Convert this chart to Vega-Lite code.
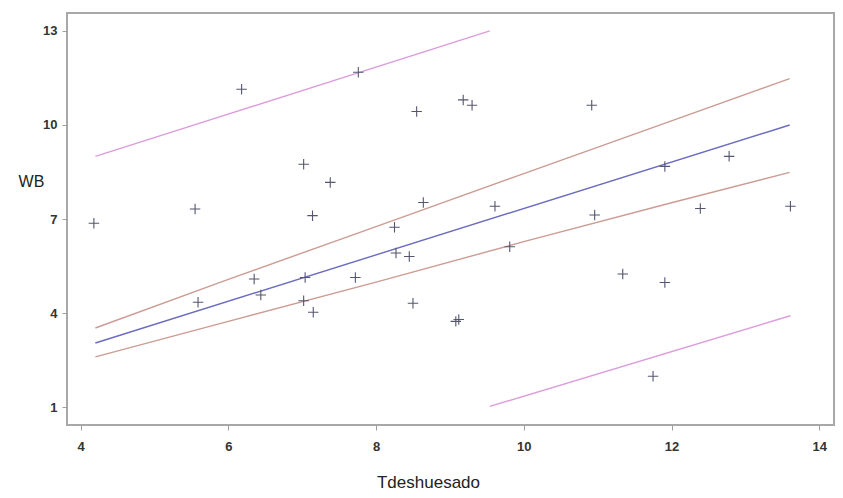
{
  "$schema": "https://vega.github.io/schema/vega-lite/v6.json",
  "width": 767,
  "height": 412,
  "autosize": {"type": "none"},
  "padding": {"left": 67, "top": 13, "right": 9, "bottom": 73},
  "background": "white",
  "config": {
    "view": {"stroke": "#a8a8a8", "strokeWidth": 2},
    "axis": {
      "labelFont": "Liberation Sans",
      "titleFont": "Liberation Sans",
      "labelColor": "#333",
      "titleColor": "#222",
      "tickColor": "#a0a0a0",
      "domain": false,
      "grid": false,
      "tickSize": 5
    }
  },
  "datasets": {
    "pts": [
      {"Tdeshuesado": 4.18, "WB": 6.87},
      {"Tdeshuesado": 5.55, "WB": 7.32},
      {"Tdeshuesado": 5.59, "WB": 4.35},
      {"Tdeshuesado": 6.18, "WB": 11.14},
      {"Tdeshuesado": 6.35, "WB": 5.09},
      {"Tdeshuesado": 6.44, "WB": 4.58},
      {"Tdeshuesado": 7.02, "WB": 8.75},
      {"Tdeshuesado": 7.04, "WB": 5.14},
      {"Tdeshuesado": 7.02, "WB": 4.40},
      {"Tdeshuesado": 7.14, "WB": 7.11},
      {"Tdeshuesado": 7.15, "WB": 4.03},
      {"Tdeshuesado": 7.38, "WB": 8.17},
      {"Tdeshuesado": 7.76, "WB": 11.68},
      {"Tdeshuesado": 7.72, "WB": 5.14},
      {"Tdeshuesado": 8.25, "WB": 6.74},
      {"Tdeshuesado": 8.27, "WB": 5.92},
      {"Tdeshuesado": 8.45, "WB": 5.81},
      {"Tdeshuesado": 8.50, "WB": 4.32},
      {"Tdeshuesado": 8.55, "WB": 10.43},
      {"Tdeshuesado": 8.64, "WB": 7.53},
      {"Tdeshuesado": 9.08, "WB": 3.74},
      {"Tdeshuesado": 9.12, "WB": 3.80},
      {"Tdeshuesado": 9.18, "WB": 10.80},
      {"Tdeshuesado": 9.30, "WB": 10.63},
      {"Tdeshuesado": 9.61, "WB": 7.41},
      {"Tdeshuesado": 9.81, "WB": 6.12},
      {"Tdeshuesado": 10.92, "WB": 10.63},
      {"Tdeshuesado": 10.96, "WB": 7.13},
      {"Tdeshuesado": 11.34, "WB": 5.25},
      {"Tdeshuesado": 11.91, "WB": 4.98},
      {"Tdeshuesado": 11.91, "WB": 8.68},
      {"Tdeshuesado": 11.75, "WB": 1.99},
      {"Tdeshuesado": 12.78, "WB": 9.00},
      {"Tdeshuesado": 12.39, "WB": 7.34},
      {"Tdeshuesado": 13.61, "WB": 7.41}
    ],
    "lines": [
      {"series": "reg", "x": 4.2, "y": 3.05},
      {"series": "reg", "x": 13.6, "y": 10.0},
      {"series": "uconf", "x": 4.2, "y": 3.53},
      {"series": "uconf", "x": 6.0, "y": 5.08},
      {"series": "uconf", "x": 8.0, "y": 6.76},
      {"series": "uconf", "x": 10.0, "y": 8.45},
      {"series": "uconf", "x": 12.0, "y": 10.13},
      {"series": "uconf", "x": 13.6, "y": 11.48},
      {"series": "lconf", "x": 4.2, "y": 2.61},
      {"series": "lconf", "x": 6.0, "y": 3.74},
      {"series": "lconf", "x": 8.0, "y": 4.99},
      {"series": "lconf", "x": 10.0, "y": 6.28},
      {"series": "lconf", "x": 12.0, "y": 7.52},
      {"series": "lconf", "x": 13.6, "y": 8.49},
      {"series": "upred", "x": 4.2, "y": 9.0},
      {"series": "upred", "x": 9.54, "y": 13.0},
      {"series": "lpred", "x": 9.54, "y": 1.03},
      {"series": "lpred", "x": 13.61, "y": 3.92}
    ]
  },
  "layer": [
    {
      "data": {"name": "lines"},
      "mark": {"type": "line", "strokeWidth": 1.4},
      "encoding": {
        "x": {"field": "x", "type": "quantitative"},
        "y": {"field": "y", "type": "quantitative"},
        "order": {"field": "x"},
        "color": {
          "field": "series",
          "type": "nominal",
          "legend": null,
          "scale": {
            "domain": ["reg", "uconf", "lconf", "upred", "lpred"],
            "range": ["#6b6bbf", "#cc9c94", "#cc9c94", "#dc9ddc", "#dc9ddc"]
          }
        }
      }
    },
    {
      "data": {"name": "pts"},
      "mark": {
        "type": "point",
        "shape": "M-1,0L1,0M0,-1L0,1",
        "filled": false,
        "size": 110,
        "strokeWidth": 1.1,
        "color": "#55556f",
        "opacity": 1
      },
      "encoding": {
        "x": {
          "field": "Tdeshuesado",
          "type": "quantitative",
          "scale": {"domain": [3.816, 14.2], "nice": false, "zero": false},
          "axis": {
            "values": [4, 6, 8, 10, 12, 14],
            "format": "d",
            "labelFontSize": 13,
            "labelFontWeight": "bold",
            "labelPadding": 10,
            "title": "Tdeshuesado",
            "titleFontSize": 17,
            "titleFontWeight": "normal",
            "titleAlign": "center",
            "titleBaseline": "middle",
            "titleX": 361,
            "titleY": 57
          }
        },
        "y": {
          "field": "WB",
          "type": "quantitative",
          "scale": {"domain": [0.437, 13.57], "nice": false, "zero": false},
          "axis": {
            "values": [1, 4, 7, 10, 13],
            "format": "d",
            "labelFontSize": 13,
            "labelFontWeight": "bold",
            "labelPadding": 5,
            "title": "WB",
            "titleFontSize": 16,
            "titleFontWeight": "normal",
            "titleAngle": 0,
            "titleAlign": "center",
            "titleBaseline": "middle",
            "titleX": -36,
            "titleY": 168
          }
        }
      }
    }
  ]
}
